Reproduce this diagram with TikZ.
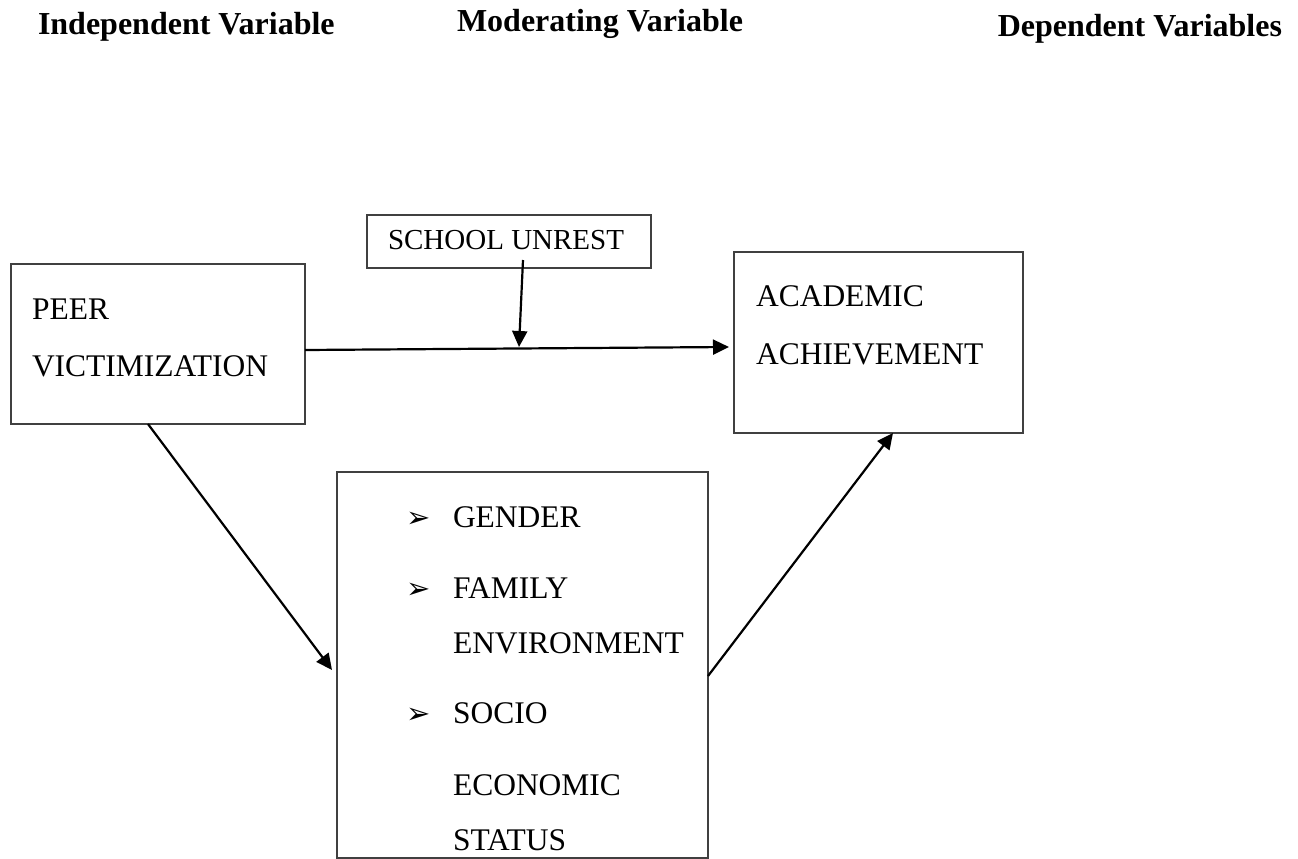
\documentclass[tikz,border=0pt]{standalone}
\usepackage{fontspec}
\setmainfont{Liberation Serif}
\newfontfamily\dejavu{DejaVu Sans}
\usetikzlibrary{arrows.meta}
\tikzset{
  box/.style={draw=black!75, line width=1.3pt, rectangle, inner sep=0pt, outer sep=0pt},
  txt/.style={anchor=base west, inner sep=0pt, outer sep=0pt, font=\fontsize{31.5}{37}\selectfont},
  hdr/.style={anchor=base west, inner sep=0pt, outer sep=0pt, font=\fontsize{32}{38}\selectfont\bfseries},
  bul/.style={anchor=base west, inner sep=0pt, outer sep=0pt, font=\fontsize{29}{34}\selectfont\dejavu},
  arr/.style={draw=black, line width=2.2pt, -{Triangle[length=16pt,width=15pt]}}
}
\begin{document}
\begin{tikzpicture}[x=1pt,y=-1pt]
\useasboundingbox (0,0) rectangle (1298,859);
% headers
\node[hdr] (h1) at (38,35) {Independent Variable};
\node[hdr] (h2) at (457,32) {Moderating Variable};
\node[hdr,anchor=base east] (h3) at (1282,37) {Dependent Variables};
% boxes
\node[box, minimum width=294pt, minimum height=160pt] (peer) at (158,344) {};
\node[box, minimum width=284pt, minimum height=53pt] (su) at (509,241.5) {};
\node[box, minimum width=289pt, minimum height=181pt] (aa) at (878.5,342.5) {};
\node[box, minimum width=371pt, minimum height=386pt] (mid) at (522.5,665) {};
% texts
\node[txt] (t1) at (32,319) {PEER};
\node[txt] (t2) at (32,376) {VICTIMIZATION};
\node[txt, font=\fontsize{29}{34}\selectfont] (t3) at (388,249) {SCHOOL UNREST};
\node[txt] (t4) at (756,306) {ACADEMIC};
\node[txt] (t5) at (756,364) {ACHIEVEMENT};
\node[bul] (b1) at (406,527) {➢};
\node[bul] (b2) at (406,598) {➢};
\node[bul] (b3) at (406,723) {➢};
\node[txt] (m1) at (453,527) {GENDER};
\node[txt] (m2) at (453,598) {FAMILY};
\node[txt] (m3) at (453,653) {ENVIRONMENT};
\node[txt] (m4) at (453,723) {SOCIO};
\node[txt] (m5) at (453,795) {ECONOMIC};
\node[txt] (m6) at (453,850) {STATUS};
% connectors
\coordinate (m) at (519,347);
\draw[arr] ([yshift=-6pt]peer.east) -- ([xshift=-5pt,yshift=-4.5pt]aa.west);
\draw[arr] ([xshift=14pt,yshift=8pt]su.south) -- (m);
\draw[arr] ([xshift=-10pt]peer.south) -- ([xshift=-5pt,yshift=-5pt]mid.west);
\draw[arr] ([yshift=-11pt]mid.east) -- ([xshift=14.5pt]aa.south);
\end{tikzpicture}
\end{document}
